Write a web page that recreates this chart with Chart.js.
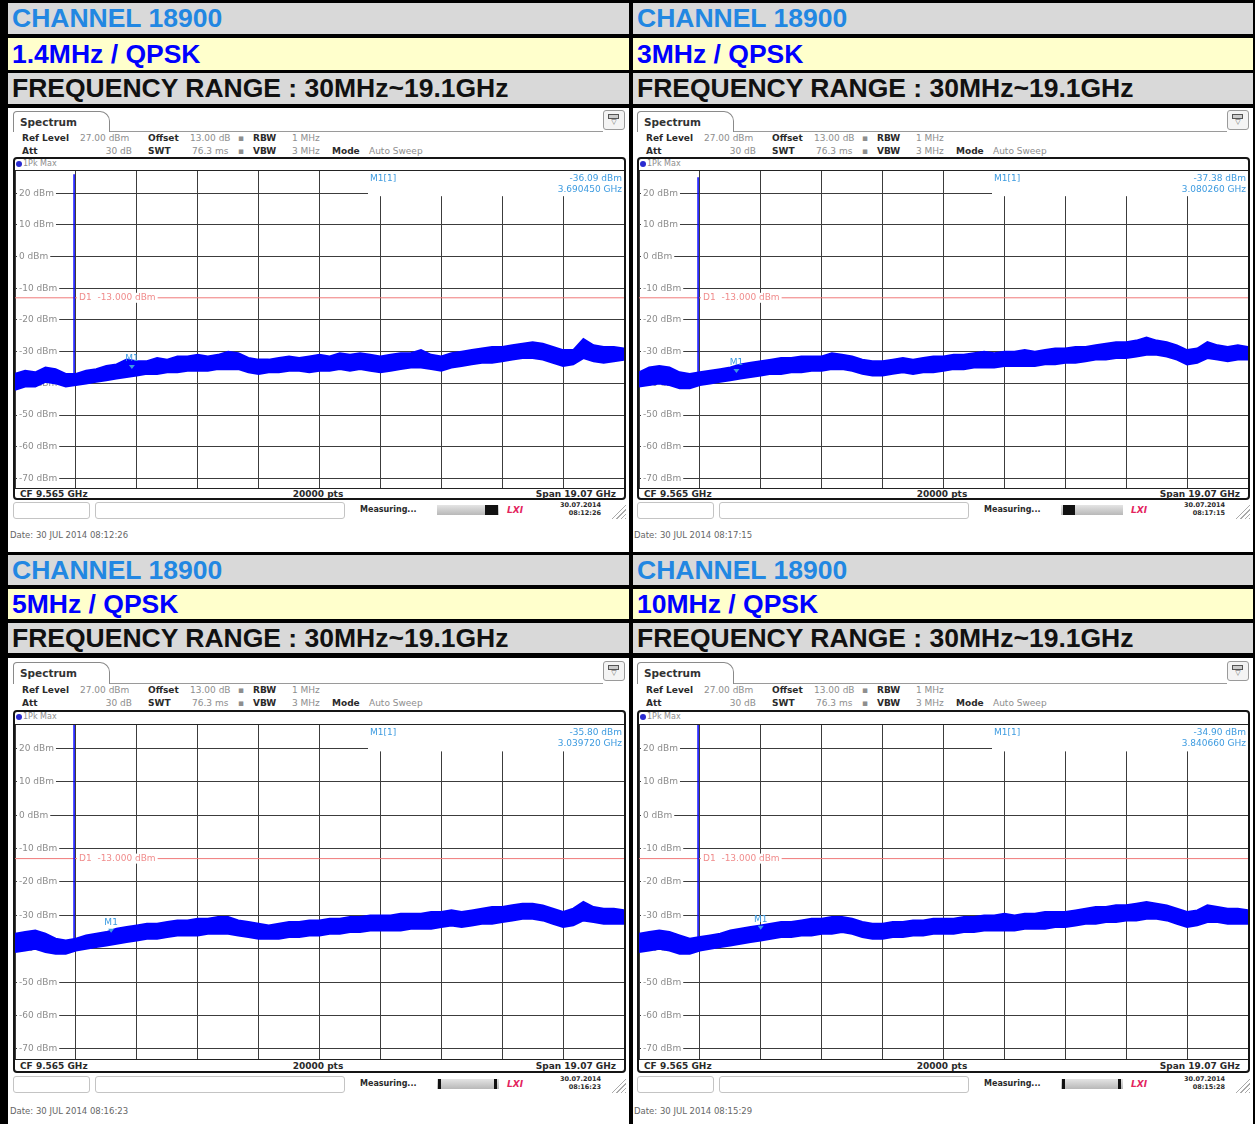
<!DOCTYPE html>
<html>
<head>
<meta charset="utf-8">
<script src="https://cdn.jsdelivr.net/npm/chart.js@4.4.1/dist/chart.umd.min.js"></script>
<style>
  body { margin: 0; background: #fff; }
  #page { position: relative; width: 1255px; height: 1124px; background: #000; overflow: hidden; }
  #page div { position: absolute; box-sizing: border-box; }
  .hdr { font: bold 26.5px "Liberation Sans", Arial, sans-serif; display: flex; align-items: center; padding-left: 4px; white-space: nowrap; }
  .t { white-space: nowrap; line-height: 10px; height: 10px; font: 9px "DejaVu Sans", sans-serif; color: #8e8e8e; }
  .b { font-weight: bold; color: #2a2a2a; }
</style>
</head>
<body>
<div id="page"></div>
<script>
///// data /////
const channelTitle = 'CHANNEL 18900';
const bandTitles = ['1.4MHz / QPSK', '3MHz / QPSK', '5MHz / QPSK', '10MHz / QPSK'];
const rangeTitle = 'FREQUENCY RANGE : 30MHz~19.1GHz';

const spanStartGHz = 0.03;
const spanStopGHz = 19.1;
const refLevelDbm = 27;
const bottomLevelDbm = -73;
const levelTicks = [20, 10, 0, -10, -20, -30, -40, -50, -60, -70];
const d1LimitDbm = -13;

const carrierGHz = 1.88;
const carrierPeakDbm = [26, 25, 27, 27];

const markerGHz = [3.690450, 3.080260, 3.039720, 3.840660];
const markerDbm = [-36.09, -37.38, -35.80, -34.90];

const dateStamps = ['30 JUL 2014  08:12:26', '30 JUL 2014  08:17:15', '30 JUL 2014  08:16:23', '30 JUL 2014  08:15:29'];
const statusTimes = ['08:12:26', '08:17:15', '08:16:23', '08:15:28'];

// upper / lower edge of the noise trace, 61 samples across the span
const traceHi = [
  [-37,-36,-36.5,-35,-35.5,-37,-37,-36,-35.5,-34.5,-34,-32.5,-33,-33,-32,-32.5,-31.5,-31.5,-31,-31.5,-31,-30,-30.5,-32,-32.5,-32.5,-32,-31.5,-32,-31.5,-31,-31.5,-30.5,-31,-30.5,-31,-31.5,-31,-30.5,-30.5,-29.5,-31,-31.5,-30.5,-30,-29.5,-29,-28.5,-28.5,-28,-27.5,-27,-27.5,-28.5,-29.5,-29.5,-26,-28,-28.5,-28.5,-29],
  [-36.5,-35,-34.5,-35,-36.5,-37,-36.5,-36,-35.5,-35,-34,-33.5,-33,-32.5,-32,-32,-31.5,-31.5,-31.5,-30.5,-31,-31.5,-32.5,-33,-33,-32.5,-32,-32.5,-32,-31.5,-31.5,-31,-31,-30.5,-30,-30.5,-30,-30,-29.5,-30,-29.5,-29,-29,-28.5,-28.5,-28,-27.5,-27,-27,-26.5,-25.5,-26.5,-27,-28,-29.5,-29,-27,-28,-28.5,-28,-28.5],
  [-35.5,-35,-34.5,-35.5,-37,-37.5,-37,-36,-35.5,-35,-34,-33.5,-33,-32.5,-32.5,-32,-31.5,-31.5,-31,-31,-30.5,-30.5,-31.5,-32,-32.5,-33,-32.5,-32,-32,-31.5,-31.5,-31,-31,-30.5,-30.5,-30,-30,-30,-29.5,-29.5,-29.5,-29,-29,-28.5,-29,-28.5,-28,-27.5,-27.5,-27,-26.5,-26.5,-27,-28,-29,-28,-26,-27.5,-28,-28,-28.5],
  [-35.5,-35,-34.5,-35,-36,-37,-36.5,-36,-35.5,-34.5,-34,-33.5,-33,-32.5,-32,-32,-31.5,-31,-31,-30.5,-30.5,-31,-32,-32.5,-32.5,-32,-32,-31.5,-31.5,-31,-31,-31,-30.5,-30.5,-30,-30,-29.5,-30,-29.5,-29.5,-29,-29,-29,-28.5,-28,-27.5,-27.5,-27,-27,-26.5,-26,-26.5,-27,-28,-29,-28.5,-27,-27.5,-28,-28,-28.5]
];
const traceLo = [
  [-42,-41,-41,-39.5,-40,-41,-40.5,-40,-39.5,-39,-38.5,-38,-37.5,-37,-37,-36.5,-36.5,-36,-36,-36,-35.5,-35.5,-35.5,-36.5,-37,-36.5,-36.5,-36,-36,-36.5,-36,-36,-35.5,-36,-35.5,-36,-36.5,-36,-35.5,-35,-35,-35.5,-36,-35,-34.5,-34,-33.5,-33.5,-33,-32.5,-32,-32,-32.5,-33.5,-34.5,-34,-32,-33,-33.5,-33,-32.5],
  [-41,-40.5,-40,-40.5,-41.5,-41.5,-40.5,-40,-39.5,-39,-38.5,-38,-37.5,-37,-37,-36.5,-36.5,-36,-36,-35.5,-35.5,-36,-37,-37.5,-37.5,-37,-36.5,-37,-36.5,-36.5,-36,-35.5,-35.5,-35,-35,-35,-34.5,-34.5,-34.5,-34.5,-34,-34,-33.5,-33.5,-33,-32.5,-32.5,-32,-32,-31.5,-31,-31,-31.5,-32.5,-34,-33.5,-32,-32.5,-33,-32.5,-32.5],
  [-41,-40.5,-40,-41,-41.5,-41.5,-40.5,-40,-39.5,-39,-38.5,-38,-37.5,-37,-37,-36.5,-36,-36,-36,-35.5,-35.5,-35.5,-36,-36.5,-37,-37,-37,-36.5,-36.5,-36,-36,-35.5,-35.5,-35,-35,-34.5,-34.5,-34.5,-34.5,-34,-34,-34,-33.5,-33,-33.5,-33,-32.5,-32.5,-32,-31.5,-31,-31,-31.5,-32.5,-33.5,-33,-31.5,-32,-32.5,-32.5,-32.5],
  [-41,-40.5,-40,-40.5,-41.5,-41.5,-40.5,-40,-39.5,-39,-38.5,-38,-37.5,-37,-36.5,-36.5,-36,-36,-35.5,-35.5,-35,-35.5,-36.5,-37,-37,-36.5,-36.5,-36,-36,-35.5,-35.5,-35.5,-35,-35,-34.5,-34.5,-34.5,-34.5,-34,-34,-34,-33.5,-33.5,-33,-32.5,-32.5,-32,-32,-31.5,-31.5,-31,-31,-31.5,-32.5,-33.5,-33,-32,-32,-32.5,-32.5,-32.5]
];

///// layout /////
const traceBlue = '#0000ff';
const gridColor = '#3c3c3c';
const markerBlue = '#3d9be0';
const page = document.getElementById('page');

function box(css, text, cls) {
  const d = document.createElement('div');
  if (cls) d.className = cls;
  Object.assign(d.style, css);
  if (text != null) d.textContent = text;
  page.appendChild(d);
  return d;
}
function txt(s, x, y, bold, align, extra) {
  const css = { top: (y - 5) + 'px' };
  if (align === 'right') css.right = (1255 - x) + 'px';
  else if (align === 'center') { css.left = x + 'px'; css.transform = 'translateX(-50%)'; }
  else css.left = x + 'px';
  return box(Object.assign(css, extra || {}), s, 't' + (bold ? ' b' : ''));
}

// table cells
const cols = [[8, 621], [633, 620]];
const blocks = [
  [[3, 31], [38, 32], [73, 31], [108, 444]],
  [[555, 30], [589, 30], [623, 30], [658, 466]]
];
blocks.forEach((rows, bi) => {
  cols.forEach(([cx, cw], ci) => {
    const i = bi * 2 + ci;
    box({ left: cx + 'px', top: rows[0][0] + 'px', width: cw + 'px', height: rows[0][1] + 'px', background: '#d9d9d9', color: '#2287e2' }, channelTitle, 'hdr');
    box({ left: cx + 'px', top: rows[1][0] + 'px', width: cw + 'px', height: rows[1][1] + 'px', background: '#ffffcc', color: '#0000ff' }, bandTitles[i], 'hdr');
    box({ left: cx + 'px', top: rows[2][0] + 'px', width: cw + 'px', height: rows[2][1] + 'px', background: '#d9d9d9', color: '#111' }, rangeTitle, 'hdr');
    box({ left: cx + 'px', top: rows[3][0] + 'px', width: cw + 'px', height: rows[3][1] + 'px', background: '#fff' });
  });
});

const rowGeo = [
  { tabTop: 111, tabBot: 131, h1: 138, h2: 151, frameTop: 157, pk: 164, plotTop: 171, plotBot: 488, foot: 494, frameBot: 500, stat: 510, date: 535 },
  { tabTop: 662, tabBot: 683, h1: 690, h2: 703, frameTop: 710, pk: 717, plotTop: 725, plotBot: 1059, foot: 1066, frameBot: 1073, stat: 1084, date: 1111 }
];
const barDark = [[[48, 13]], [[2, 12]], [[1, 3], [57, 3]], [[1, 3], [57, 3]]];

const overlay = {
  id: 'overlay',
  beforeDatasetsDraw(chart) {
    const { ctx, chartArea: a, scales: { y } } = chart;
    ctx.save();
    ctx.font = '9px "DejaVu Sans"';
    ctx.textBaseline = 'middle';
    levelTicks.forEach(v => {
      const py = y.getPixelForValue(v);
      const s = v + ' dBm';
      const w = ctx.measureText(s).width;
      ctx.fillStyle = '#fff';
      ctx.fillRect(a.left + 2, py - 5, w + 4, 10);
      ctx.fillStyle = '#8c8c8c';
      ctx.fillText(s, a.left + 4, py);
    });
    // marker readout area hides the grid
    const bx = a.left + 353;
    ctx.fillStyle = '#fff';
    ctx.fillRect(bx, a.top, a.right - bx, y.getPixelForValue(20) + 3 - a.top);
    ctx.restore();
  },
  afterDatasetsDraw(chart, args, opts) {
    const { ctx, chartArea: a, scales: { x, y } } = chart;
    const i = opts.panel;
    ctx.save();
    ctx.font = '9px "DejaVu Sans"';
    ctx.textBaseline = 'middle';
    // D1 limit label
    const dy = y.getPixelForValue(d1LimitDbm);
    const ds = 'D1  -13.000 dBm';
    const dw = ctx.measureText(ds).width;
    ctx.fillStyle = '#fff';
    ctx.fillRect(a.left + 62, dy - 5, dw + 4, 10);
    ctx.fillStyle = '#f08c8c';
    ctx.fillText(ds, a.left + 64, dy);
    // M1 on the trace
    const mx = x.getPixelForValue(markerGHz[i]);
    const my = y.getPixelForValue(markerDbm[i]);
    ctx.fillStyle = markerBlue;
    ctx.textAlign = 'center';
    ctx.fillText('M1', mx, my - 12);
    ctx.beginPath();
    ctx.moveTo(mx - 3, my - 6); ctx.lineTo(mx + 3, my - 6); ctx.lineTo(mx, my - 2); ctx.closePath();
    ctx.fill();
    // readout
    ctx.textAlign = 'left';
    ctx.fillText('M1[1]', a.left + 355, a.top + 8);
    ctx.textAlign = 'right';
    ctx.fillText(markerDbm[i].toFixed(2) + ' dBm', a.right - 2, a.top + 8);
    ctx.fillText(markerGHz[i].toFixed(6) + ' GHz', a.right - 2, a.top + 19);
    ctx.restore();
  }
};

function makeChart(canvas, i) {
  const step = (spanStopGHz - spanStartGHz) / (traceHi[i].length - 1);
  const freqs = traceHi[i].map((_, k) => spanStartGHz + k * step);
  const xGrid = [];
  for (let k = 0; k <= 10; k++) xGrid.push(spanStartGHz + k * (spanStopGHz - spanStartGHz) / 10);
  return new Chart(canvas, {
    type: 'line',
    data: {
      datasets: [
        { data: traceHi[i].map((v, k) => ({ x: freqs[k], y: v })), borderColor: traceBlue, backgroundColor: traceBlue, borderWidth: 2, fill: '+1', pointRadius: 0, tension: 0 },
        { data: traceLo[i].map((v, k) => ({ x: freqs[k], y: v })), borderColor: traceBlue, borderWidth: 2, fill: false, pointRadius: 0, tension: 0 },
        { data: [{ x: carrierGHz, y: -40 }, { x: carrierGHz, y: carrierPeakDbm[i] }], borderColor: traceBlue, borderWidth: 1.5, fill: false, pointRadius: 0 },
        { data: [{ x: spanStartGHz, y: d1LimitDbm }, { x: spanStopGHz, y: d1LimitDbm }], borderColor: '#f07a7a', borderWidth: 1, fill: false, pointRadius: 0 }
      ]
    },
    options: {
      responsive: false,
      animation: false,
      devicePixelRatio: 1,
      layout: { padding: 0 },
      plugins: { legend: { display: false }, tooltip: { enabled: false }, overlay: { panel: i } },
      scales: {
        x: {
          type: 'linear', min: spanStartGHz, max: spanStopGHz,
          afterBuildTicks: s => { s.ticks = xGrid.map(v => ({ value: v })); },
          ticks: { display: false },
          grid: { color: gridColor, lineWidth: 1, drawTicks: false },
          border: { display: false }
        },
        y: {
          type: 'linear', min: bottomLevelDbm, max: refLevelDbm,
          afterBuildTicks: s => { s.ticks = levelTicks.map(v => ({ value: v })); },
          ticks: { display: false },
          grid: { color: gridColor, lineWidth: 1, drawTicks: false },
          border: { display: false }
        }
      }
    },
    plugins: [overlay]
  });
}

for (let i = 0; i < 4; i++) {
  const g = rowGeo[Math.floor(i / 2)];
  const dx = (i % 2) * 624;
  // tab and icon
  box({ left: (13 + dx) + 'px', top: g.tabTop + 'px', width: '97px', height: (g.tabBot - g.tabTop + 1) + 'px', border: '1px solid #8a8a8a', borderBottom: 'none', borderRadius: '4px 10px 0 0', background: '#fff' });
  box({ left: (110 + dx) + 'px', top: g.tabBot + 'px', width: '493px', height: '1px', background: '#9a9a9a' });
  txt('Spectrum', 20 + dx, g.tabTop + 10, true, 'left', { fontSize: '10.5px', color: '#333' });
  box({ left: (603 + dx) + 'px', top: (g.tabTop - 1) + 'px', width: '22px', height: '20px', border: '1px solid #9a9a9a', borderRadius: '3px', background: '#f4f4f4' });
  box({ left: (608 + dx) + 'px', top: (g.tabTop + 3) + 'px', width: '11px', height: '5px', border: '1px solid #555', background: '#ccc' });
  txt('\u25BD', 614 + dx, g.tabTop + 12, false, 'center', { fontSize: '7px', color: '#555' });
  // settings lines
  txt('Ref Level', 22 + dx, g.h1, true);
  txt('27.00 dBm', 80 + dx, g.h1);
  txt('Offset', 148 + dx, g.h1, true);
  txt('13.00 dB', 190 + dx, g.h1);
  txt('\u25AA', 238 + dx, g.h1);
  txt('RBW', 253 + dx, g.h1, true);
  txt('1 MHz', 292 + dx, g.h1);
  txt('Att', 22 + dx, g.h2, true);
  txt('30 dB', 132 + dx, g.h2, false, 'right');
  txt('SWT', 148 + dx, g.h2, true);
  txt('76.3 ms', 192 + dx, g.h2);
  txt('\u25AA', 238 + dx, g.h2);
  txt('VBW', 253 + dx, g.h2, true);
  txt('3 MHz', 292 + dx, g.h2);
  txt('Mode', 332 + dx, g.h2, true);
  txt('Auto Sweep', 369 + dx, g.h2);
  // frame
  box({ left: (13 + dx) + 'px', top: g.frameTop + 'px', width: '613px', height: (g.frameBot - g.frameTop) + 'px', border: '2px solid #151515', borderRadius: '4px', background: '#fff' });
  box({ left: (15 + dx) + 'px', top: (g.plotTop - 1) + 'px', width: '609px', height: '1px', background: '#222' });
  box({ left: (15 + dx) + 'px', top: g.plotBot + 'px', width: '609px', height: '1px', background: '#222' });
  box({ left: (16 + dx) + 'px', top: (g.pk - 3) + 'px', width: '6px', height: '6px', borderRadius: '3px', background: '#2a2ad0' });
  txt('1Pk Max', 23 + dx, g.pk, false, 'left', { fontSize: '8px' });
  txt('CF 9.565 GHz', 20 + dx, g.foot, true);
  txt('20000 pts', 318 + dx, g.foot, true, 'center');
  txt('Span 19.07 GHz', 616 + dx, g.foot, true, 'right');
  // plot canvas
  const c = document.createElement('canvas');
  c.width = 609; c.height = g.plotBot - g.plotTop;
  Object.assign(c.style, { position: 'absolute', left: (15 + dx) + 'px', top: g.plotTop + 'px' });
  page.appendChild(c);
  makeChart(c, i);
  // status bar
  box({ left: (13 + dx) + 'px', top: (g.stat - 8) + 'px', width: '77px', height: '17px', border: '1px solid #c4c4c4', borderRadius: '3px' });
  box({ left: (95 + dx) + 'px', top: (g.stat - 8) + 'px', width: '250px', height: '17px', border: '1px solid #c4c4c4', borderRadius: '3px' });
  txt('Measuring...', 360 + dx, g.stat, true, 'left', { fontSize: '8px' });
  box({ left: (437 + dx) + 'px', top: (g.stat - 5) + 'px', width: '62px', height: '10px', background: 'linear-gradient(#e4e4e4,#b8b8b8)' });
  barDark[i].forEach(([s, w]) => box({ left: (437 + s + dx) + 'px', top: (g.stat - 5) + 'px', width: w + 'px', height: '10px', background: '#111' }));
  txt('LXI', 507 + dx, g.stat, true, 'left', { fontStyle: 'italic', color: '#e3245e', fontSize: '9px' });
  txt('30.07.2014', 601 + dx, g.stat - 4, true, 'right', { fontSize: '6.5px' });
  txt(statusTimes[i], 601 + dx, g.stat + 4, true, 'right', { fontSize: '6.5px' });
  box({ left: (611 + dx) + 'px', top: (g.stat - 6) + 'px', width: '15px', height: '15px', background: 'repeating-linear-gradient(135deg,#fff 0 2px,#aaa 2px 3px)', clipPath: 'polygon(100% 0,100% 100%,0 100%)' });
  txt('Date: ' + dateStamps[i], 10 + dx, g.date, false, 'left', { color: '#666', fontSize: '8.5px' });
}
</script>
</body>
</html>
